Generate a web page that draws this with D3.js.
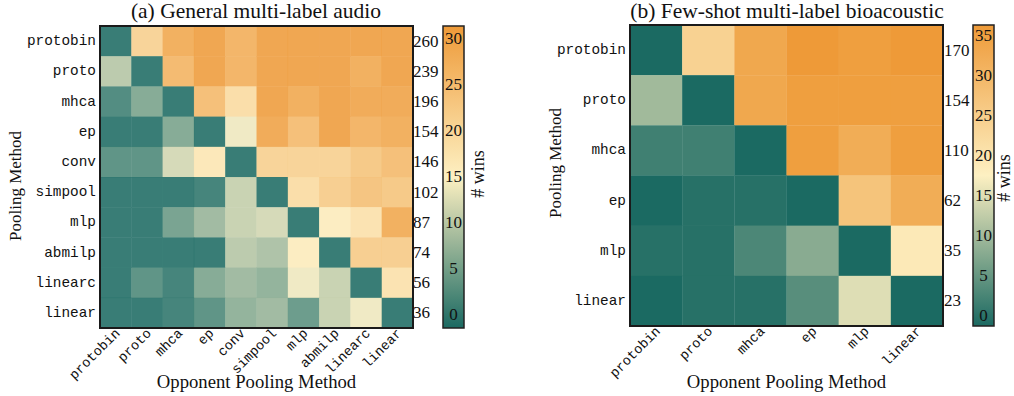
<!DOCTYPE html>
<html>
<head>
<meta charset="utf-8">
<script src="https://cdn.jsdelivr.net/npm/d3@7.9.0/dist/d3.min.js"></script>
<style>
  body { margin: 0; background: #fff; }
  svg { display: block; }
  .serif { font-family: "Liberation Serif", "Times New Roman", serif; fill: #111; }
  .mono { font-family: "Liberation Mono", "DejaVu Sans Mono", monospace; fill: #111; }
</style>
</head>
<body>
<svg id="chart" width="1014" height="396"></svg>
<script>
// (a) general multi-label audio
const methodsA = ["protobin", "proto", "mhca", "ep", "conv", "simpool", "mlp", "abmilp", "linearc", "linear"];
const winsA = [
  [0, 21, 28, 30, 27, 30, 30, 30, 30, 30],
  [10, 0, 26, 30, 27, 30, 30, 30, 28, 30],
  [2, 6, 0, 25, 19, 30, 28, 30, 29, 29],
  [0, 0, 6, 0, 14, 29, 25, 30, 27, 28],
  [3, 3, 12, 17, 0, 21, 21, 21, 23, 25],
  [0, 0, 0, 1, 11, 0, 19, 22, 24, 23],
  [0, 0, 5, 8, 11, 12, 0, 16, 18, 28],
  [0, 0, 0, 0, 10, 9, 16, 0, 22, 22],
  [0, 3, 1, 6, 8, 7, 14, 11, 0, 18],
  [0, 0, 1, 3, 7, 8, 4, 11, 14, 0]
];
const totalsA = [260, 239, 196, 154, 146, 102, 87, 74, 56, 36];
const ticksA = [0, 5, 10, 15, 20, 25, 30];

// (b) few-shot multi-label bioacoustic
const methodsB = ["protobin", "proto", "mhca", "ep", "mlp", "linear"];
const winsB = [
  [0, 25, 34, 37, 36, 37],
  [11, 0, 34, 36, 36, 36],
  [3, 3, 0, 36, 33, 36],
  [0, 1, 1, 0, 28, 33],
  [1, 1, 4, 9, 0, 20],
  [0, 1, 1, 5, 16, 0]
];
const totalsB = [170, 154, 110, 62, 35, 23];
const ticksB = [0, 5, 10, 15, 20, 25, 30, 35];

const cmapColors = ["#1b6a62", "#fdf0c2", "#ee9a38"];

const svg = d3.select("#chart");
const defs = svg.append("defs");

const panels = [
  {
    id: "a", title: "(a) General multi-label audio",
    methods: methodsA, wins: winsA, totals: totalsA, ticks: ticksA, vmax: 30,
    heat: { x: 100, y: 26, w: 313, h: 302 }, alpha: 0.87,
    bar: { x: 443, y: 26, w: 21, h: 302 }, tickRange: [314, 38],
    totalsX: 413, yLab: [15, 186], winsLab: [478, 174], titleX: 256
  },
  {
    id: "b", title: "(b) Few-shot multi-label bioacoustic",
    methods: methodsB, wins: winsB, totals: totalsB, ticks: ticksB, vmax: 37,
    heat: { x: 630, y: 25, w: 313, h: 301 }, alpha: 1,
    bar: { x: 973, y: 25, w: 21, h: 301 }, tickRange: [315, 35],
    totalsX: 944, yLab: [555, 163], winsLab: [1004, 178], titleX: 787
  }
];

panels.forEach(p => {
  const g = svg.append("g");
  const color = d3.scaleLinear()
    .domain([0, p.vmax / 2, p.vmax])
    .range(cmapColors);

  const x = d3.scaleBand().domain(p.methods).range([p.heat.x, p.heat.x + p.heat.w]);
  const y = d3.scaleBand().domain(p.methods).range([p.heat.y, p.heat.y + p.heat.h]);

  const cells = [];
  p.wins.forEach((row, i) => row.forEach((v, j) => cells.push({ r: p.methods[i], c: p.methods[j], v })));

  g.selectAll("rect.cell")
    .data(cells)
    .enter()
    .append("rect")
    .attr("class", "cell")
    .attr("x", d => x(d.c))
    .attr("y", d => y(d.r))
    .attr("width", x.bandwidth() + 0.3)
    .attr("height", y.bandwidth() + 0.3)
    .attr("fill", d => color(d.v))
    .attr("fill-opacity", p.alpha);

  g.append("rect")
    .attr("x", p.heat.x).attr("y", p.heat.y)
    .attr("width", p.heat.w).attr("height", p.heat.h)
    .attr("fill", "none").attr("stroke", "#1a1a1a").attr("stroke-width", 2);

  // row labels
  g.selectAll("text.rowlab")
    .data(p.methods)
    .enter()
    .append("text")
    .attr("class", "mono")
    .attr("x", p.heat.x - 4)
    .attr("y", d => y(d) + y.bandwidth() / 2)
    .attr("text-anchor", "end")
    .attr("dominant-baseline", "central")
    .style("font-size", "14.4px")
    .text(d => d);

  // column labels, rotated
  g.selectAll("text.collab")
    .data(p.methods)
    .enter()
    .append("text")
    .attr("class", "mono")
    .attr("text-anchor", "end")
    .attr("transform", d => `translate(${x(d) + x.bandwidth() / 2 + 5},${p.heat.y + p.heat.h + 6}) rotate(-45)`)
    .style("font-size", "13.6px")
    .text(d => d);

  // row totals
  g.selectAll("text.total")
    .data(p.totals)
    .enter()
    .append("text")
    .attr("class", "serif")
    .attr("x", p.totalsX)
    .attr("y", (d, i) => y(p.methods[i]) + y.bandwidth() / 2)
    .attr("dominant-baseline", "central")
    .style("font-size", "17px")
    .text(d => d);

  // colorbar
  const grad = defs.append("linearGradient")
    .attr("id", "grad-" + p.id)
    .attr("x1", 0).attr("y1", 1).attr("x2", 0).attr("y2", 0);
  d3.range(0, 1.0001, 0.05).forEach(t => {
    grad.append("stop").attr("offset", t).attr("stop-color", color(t * p.vmax));
  });
  g.append("rect")
    .attr("x", p.bar.x).attr("y", p.bar.y)
    .attr("width", p.bar.w).attr("height", p.bar.h)
    .attr("fill", `url(#grad-${p.id})`)
    .attr("stroke", "#222").attr("stroke-width", 1.5);

  const tickY = d3.scaleLinear().domain([0, d3.max(p.ticks)]).range(p.tickRange);
  g.selectAll("text.ctick")
    .data(p.ticks)
    .enter()
    .append("text")
    .attr("class", "serif")
    .attr("x", p.bar.x + p.bar.w / 2)
    .attr("y", d => tickY(d))
    .attr("text-anchor", "middle")
    .attr("dominant-baseline", "central")
    .style("font-size", "17px")
    .text(d => d);

  g.append("text")
    .attr("class", "serif")
    .attr("transform", `translate(${p.winsLab[0]},${p.winsLab[1]}) rotate(-90)`)
    .attr("text-anchor", "middle")
    .attr("dominant-baseline", "central")
    .style("font-size", "18px")
    .text("# wins");

  // titles and axis labels
  g.append("text")
    .attr("class", "serif")
    .attr("x", p.titleX).attr("y", 18)
    .attr("text-anchor", "middle")
    .style("font-size", "21.5px")
    .text(p.title);

  g.append("text")
    .attr("class", "serif")
    .attr("x", p.heat.x + p.heat.w / 2).attr("y", 388)
    .attr("text-anchor", "middle")
    .style("font-size", "18.7px")
    .text("Opponent Pooling Method");

  g.append("text")
    .attr("class", "serif")
    .attr("transform", `translate(${p.yLab[0]},${p.yLab[1]}) rotate(-90)`)
    .attr("text-anchor", "middle")
    .attr("dominant-baseline", "central")
    .style("font-size", "17px")
    .text("Pooling Method");
});
</script>
</body>
</html>
